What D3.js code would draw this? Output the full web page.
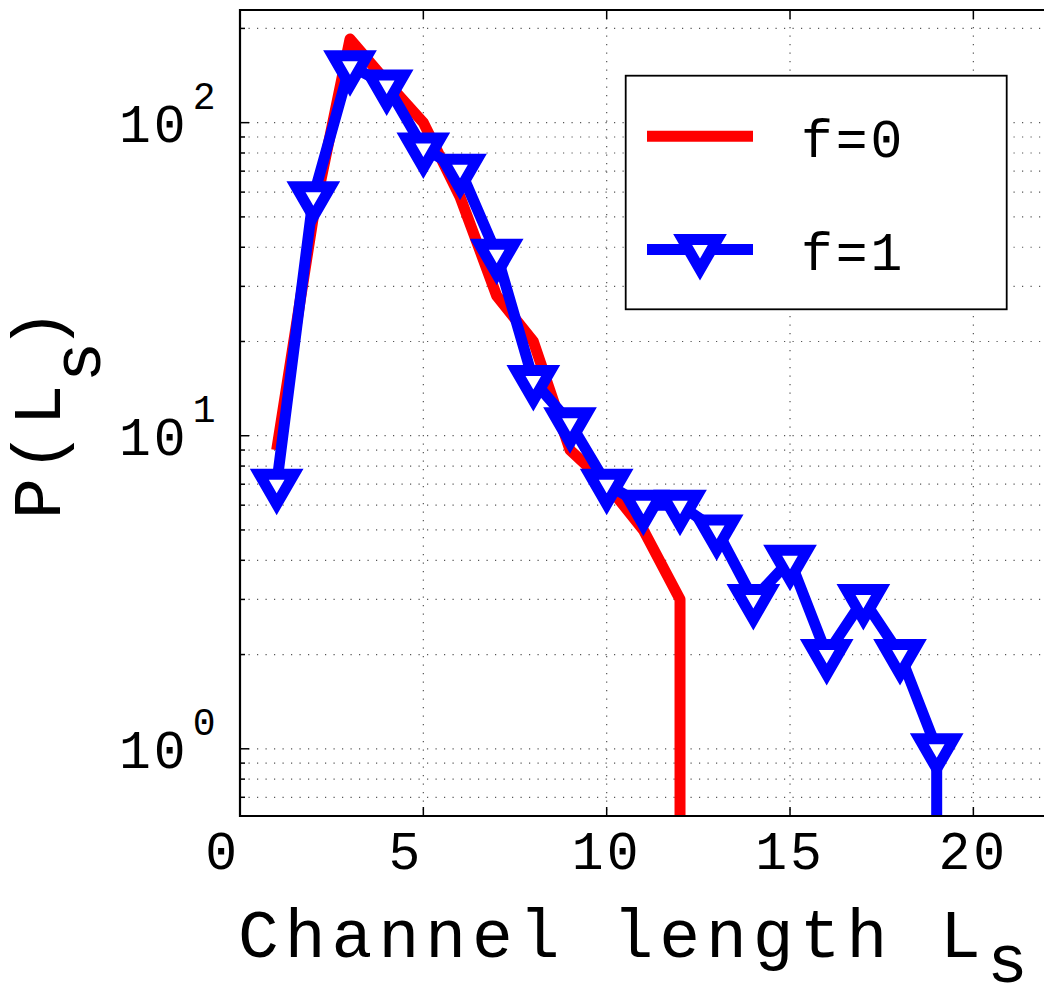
<!DOCTYPE html>
<html>
<head>
<meta charset="utf-8">
<script src="https://cdn.jsdelivr.net/npm/d3@7"></script>
<style>
html,body{margin:0;padding:0;background:#fff;}
svg{display:block;}
text{font-family:"Liberation Mono","Courier New",monospace;fill:#000;}
</style>
</head>
<body>
<svg id="chart" width="1044" height="1003"></svg>
<script>
// ---- data ----
const xTicks = [0, 5, 10, 15, 20];
const yTickExponents = [0, 1, 2];
const seriesNames = ["f=0", "f=1"];
const xF0 = [1, 2, 3, 4, 5, 6, 7, 8, 9, 10, 11, 12, 13];
const yF0 = [9, 50, 185, 135, 100, 58, 28, 20, 9, 7, 5, 3, 0];
const xF1 = [1, 2, 3, 4, 5, 6, 7, 8, 9, 10, 11, 12, 13, 14, 15, 16, 17, 18, 19, 20];
const yF1 = [7, 58, 152, 132, 83, 71, 38, 15, 11, 7, 6, 6, 5, 3, 4, 2, 3, 2, 1, 0];
const xLabel = "Channel length L";
const yLabel = "P(L";
const subLabel = "s";

(function () {
// ---- layout ----
const pL = 240, pR = 1046.7, pT = 10, pB = 816;
const svg = d3.select("#chart");

const x = d3.scaleLinear().domain([0, 22]).range([pL, pR]);
const y = d3.scaleLog().domain([0.61, 229]).range([pB, pT]);

// grid values
const minorY = [];
for (let e = -1; e <= 2; e++) for (let m = 1; m <= 9; m++) {
  const v = m * Math.pow(10, e);
  if (v >= 0.61 && v <= 229) minorY.push(v);
}

const gridColor = "#555";
const dash = "1.2,7.3";
const grid = svg.append("g");
grid.selectAll("line.h").data(minorY).join("line")
  .attr("x1", pL).attr("x2", pR)
  .attr("y1", d => y(d)).attr("y2", d => y(d))
  .attr("stroke", gridColor).attr("stroke-width", 1.2).attr("stroke-dasharray", dash);
grid.selectAll("line.v").data(xTicks.filter(d => d > 0)).join("line")
  .attr("x1", d => x(d)).attr("x2", d => x(d))
  .attr("y1", pT).attr("y2", pB)
  .attr("stroke", gridColor).attr("stroke-width", 1.2).attr("stroke-dasharray", dash);

// clip
svg.append("clipPath").attr("id", "clip").append("rect")
  .attr("x", pL).attr("y", pT).attr("width", pR - pL).attr("height", pB - pT);

// line path builder: zero values drop vertically to the bottom edge
function buildPath(xs, ys) {
  let d = "";
  let prev = null;
  xs.forEach((xv, i) => {
    const v = ys[i];
    if (v > 0) {
      d += (prev === null ? "M" : "L") + x(xv) + "," + y(v);
      prev = [xv, v];
    } else if (prev !== null) {
      d += "L" + x(prev[0]) + "," + (pB + 20);
      prev = null;
    }
  });
  return d;
}

const plot = svg.append("g").attr("clip-path", "url(#clip)");
plot.append("path").attr("d", buildPath(xF0, yF0))
  .attr("fill", "none").attr("stroke", "#ff0000").attr("stroke-width", 11)
  .attr("stroke-linejoin", "round").attr("stroke-linecap", "butt");
plot.append("path").attr("d", buildPath(xF1, yF1))
  .attr("fill", "none").attr("stroke", "#0000ff").attr("stroke-width", 11)
  .attr("stroke-linejoin", "round").attr("stroke-linecap", "butt");

// triangle-down marker, centroid at origin
const r = 10;
const tri = `M${-r*Math.sqrt(3)},${-r}L${r*Math.sqrt(3)},${-r}L0,${2*r}Z`;
const ptsF1 = xF1.map((xv, i) => [xv, yF1[i]]).filter(p => p[1] > 0);
svg.append("g").selectAll("path").data(ptsF1).join("path")
  .attr("d", tri)
  .attr("transform", d => `translate(${x(d[0])},${y(d[1])})`)
  .attr("fill", "#fff").attr("stroke", "#0000ff").attr("stroke-width", 11)
  .attr("stroke-linejoin", "miter");

// axes
const axes = svg.append("g");
axes.append("line").attr("x1", pL).attr("x2", pL).attr("y1", pT - 1).attr("y2", pB + 1)
  .attr("stroke", "#000").attr("stroke-width", 2.2);
axes.append("line").attr("x1", pL - 1).attr("x2", 1044).attr("y1", pB).attr("y2", pB)
  .attr("stroke", "#000").attr("stroke-width", 2.2);
axes.append("line").attr("x1", pL - 1).attr("x2", 1044).attr("y1", pT).attr("y2", pT)
  .attr("stroke", "#000").attr("stroke-width", 2.2);

// x ticks (bottom up, top down)
axes.selectAll("line.xtb").data(xTicks).join("line")
  .attr("x1", d => x(d)).attr("x2", d => x(d)).attr("y1", pB).attr("y2", pB - 9)
  .attr("stroke", "#000").attr("stroke-width", 1.5);
axes.selectAll("line.xtt").data(xTicks).join("line")
  .attr("x1", d => x(d)).attr("x2", d => x(d)).attr("y1", pT).attr("y2", pT + 9)
  .attr("stroke", "#000").attr("stroke-width", 1.5);
// y ticks
const majorY = yTickExponents.map(e => Math.pow(10, e));
axes.selectAll("line.ytm").data(minorY).join("line")
  .attr("x1", pL).attr("x2", d => pL + (majorY.includes(d) ? 9 : 5))
  .attr("y1", d => y(d)).attr("y2", d => y(d))
  .attr("stroke", "#000").attr("stroke-width", 1.5);

// tick labels
const tickFont = 53, tickLS = 3;
svg.append("g").selectAll("text").data(xTicks).join("text")
  .attr("x", d => x(d)).attr("y", 869)
  .attr("text-anchor", "middle")
  .style("white-space", "pre")
  .attr("font-size", tickFont).attr("letter-spacing", tickLS)
  .text(d => String(d).padEnd(2, " "));

const ylab = svg.append("g").selectAll("text").data(yTickExponents).join("text")
  .attr("x", 119).attr("y", d => y(Math.pow(10, d)) + 19)
  .attr("font-size", tickFont).attr("letter-spacing", tickLS);
ylab.append("tspan").text("10");
ylab.append("tspan").attr("font-size", 38).attr("dy", -33).attr("dx", 4).text(d => d);

// axis labels
const labFont = 68, labLS = 6;
const xl = svg.append("text").attr("x", 238).attr("y", 957)
  .attr("font-size", labFont).attr("letter-spacing", labLS);
xl.append("tspan").text(xLabel);
xl.append("tspan").attr("dy", 25).text(subLabel);

const yl = svg.append("text").attr("transform", "translate(60,519) rotate(-90)")
  .attr("font-size", labFont).attr("letter-spacing", labLS);
yl.append("tspan").text(yLabel);
yl.append("tspan").attr("dy", 40).attr("dx", -4).text(subLabel);
yl.append("tspan").attr("dy", -40).attr("dx", -14).text(")");

// legend
const lg = svg.append("g");
lg.append("rect").attr("x", 625.7).attr("y", 75.7).attr("width", 381).attr("height", 233.6)
  .attr("fill", "#fff").attr("stroke", "#000").attr("stroke-width", 1.8);
const legendRows = [
  {name: seriesNames[0], color: "#ff0000", marker: false, yy: 136.3},
  {name: seriesNames[1], color: "#0000ff", marker: true, yy: 249.5}
];
legendRows.forEach(rw => {
  lg.append("line").attr("x1", 647).attr("x2", 753).attr("y1", rw.yy).attr("y2", rw.yy)
    .attr("stroke", rw.color).attr("stroke-width", 11);
  if (rw.marker) {
    lg.append("path").attr("d", tri).attr("transform", `translate(700,${rw.yy})`)
      .attr("fill", "#fff").attr("stroke", rw.color).attr("stroke-width", 11)
      .attr("stroke-linejoin", "miter");
  }
  lg.append("text").attr("x", 801).attr("y", rw.yy + 20.5)
    .attr("font-size", tickFont).attr("letter-spacing", tickLS).text(rw.name);
});
})();
</script>
</body>
</html>
